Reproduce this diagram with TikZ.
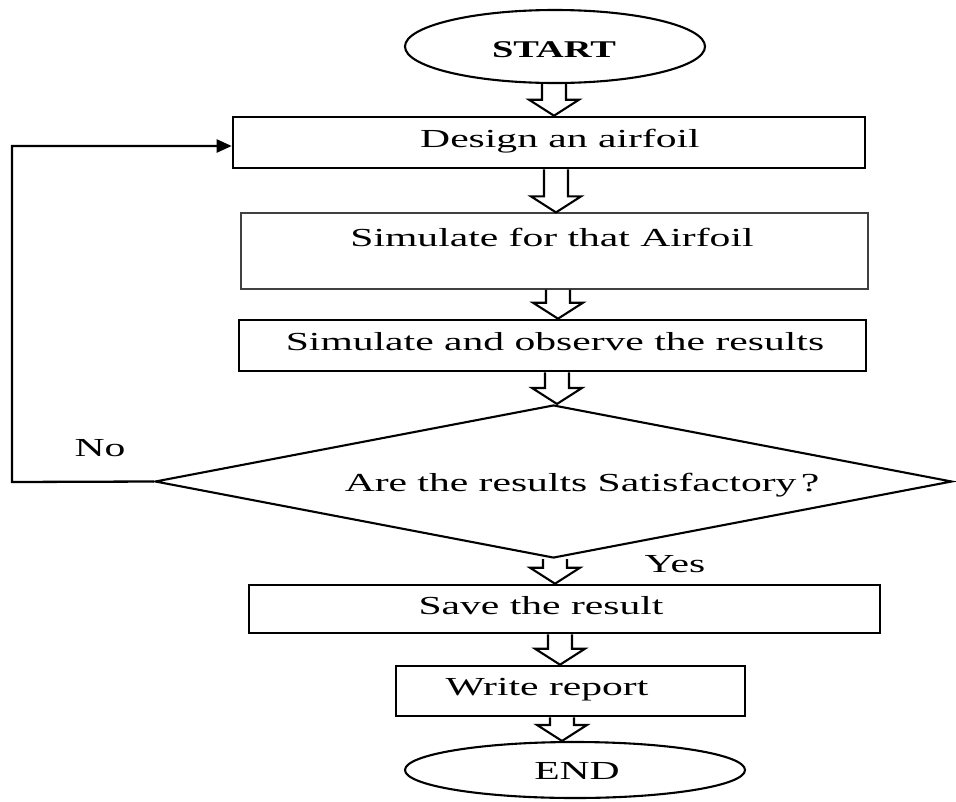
\documentclass[tikz,border=0pt]{standalone}
\usepackage{fontspec}
\setmainfont{Liberation Serif}[FakeStretch=1.6]
\usetikzlibrary{shapes.geometric,arrows.meta,calc}
\tikzset{
  boxthick/.style={draw, line width=2.6pt, inner sep=0pt},
  boxthin/.style={draw=black!75, line width=1.2pt, inner sep=0pt},
  term/.style={draw, ellipse, line width=2.1pt, inner sep=0pt},
  decision/.style={draw, diamond, line width=2.1pt, inner sep=0pt},
  txt/.style={anchor=base, inner sep=0pt, font=\fontsize{26}{30}\selectfont},
  barrowst/.style={draw, line width=2.1pt, line join=miter},
  loopline/.style={draw, line width=2.3pt, -{Triangle[length=15pt,width=13pt]}},
}
\newcommand\barrow[3]{%
  \draw[barrowst] let \p1=(#2.south), \p2=(#3.north) in
    (#1pt-12pt,\y1) -- (#1pt-12pt,\y2+16pt) -- (#1pt-25pt,\y2+16pt) -- (#1pt,\y2)
    -- (#1pt+25pt,\y2+16pt) -- (#1pt+12pt,\y2+16pt) -- (#1pt+12pt,\y1);}
\begin{document}
\begin{tikzpicture}[x=1pt,y=-1pt]
\useasboundingbox[fill=white] (0,0) rectangle (956,801);
% shapes
\node[term, minimum width=300pt, minimum height=73pt] (start) at (555,46.5) {};
\node[boxthick, minimum width=632pt, minimum height=51pt] (b1) at (549,142.5) {};
\node[boxthin, minimum width=627pt, minimum height=76pt] (b2) at (554.5,251) {};
\node[boxthick, minimum width=627pt, minimum height=51pt] (b3) at (552.5,345.5) {};
\node[decision, minimum width=797pt, minimum height=153pt] (dec) at (553.5,481.5) {};
\node[boxthick, minimum width=631pt, minimum height=48pt] (b4) at (564.5,609) {};
\node[boxthick, minimum width=349pt, minimum height=50pt] (b5) at (570.5,691) {};
\node[term, minimum width=340pt, minimum height=56pt] (end) at (575,770) {};
% texts
\node[txt, font=\fontsize{24}{28}\selectfont\bfseries] (tstart) at (554,57) {START};
\node[txt] (t1) at (560,147) {Design an airfoil};
\node[txt] (t2) at (552,246) {Simulate for that Airfoil};
\node[txt] (t3) at (555,350) {Simulate and observe the results};
\node[txt] (tdec) at (582,491) {Are the results Satisfactory\,?};
\node[txt] (tno) at (100,456) {No};
\node[txt] (tyes) at (675,572) {Yes};
\node[txt] (t4) at (541,614) {Save the result};
\node[txt] (t5) at (547,695) {Write report};
\node[txt] (tend) at (577,779) {END};
% block arrows
\barrow{554}{start}{b1}
\barrow{556}{b1}{b2}
\barrow{558}{b2}{b3}
\barrow{557}{b3}{dec}
\barrow{555}{dec}{b4}
\barrow{560}{b4}{b5}
\barrow{562}{b5}{end}
% loop back
\coordinate (lc) at (12,482);
\coordinate (lt) at (12,146);
\draw[loopline] (dec.west) -- (lc) -- (lt) -- (b1.west |- lt);
\end{tikzpicture}
\end{document}
